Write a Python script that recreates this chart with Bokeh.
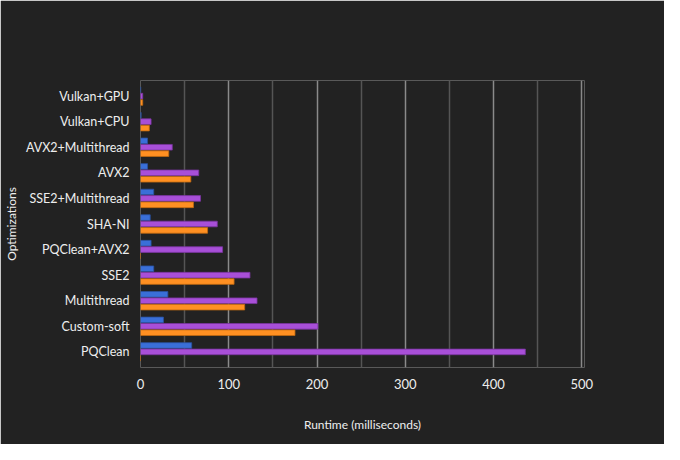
from bokeh.plotting import figure
from bokeh.models import FactorRange, Range1d, FixedTicker, Legend, LegendItem, ColumnDataSource, Label
from bokeh.transform import dodge
from bokeh.embed import file_html
from bokeh.resources import INLINE

categories = ["Vulkan+GPU", "Vulkan+CPU", "AVX2+Multithread", "AVX2", "SSE2+Multithread",
              "SHA-NI", "PQClean+AVX2", "SSE2", "Multithread", "Custom-soft", "PQClean"]
keygen = [0.3, 0.7, 8, 8, 15, 11, 12, 15, 31, 26, 58]
signing = [2.5, 12, 36, 66, 68, 87, 93, 124, 132, 201, 436]
cached = [2.5, 10, 32, 57, 60, 76, 0, 106, 118, 175, 0]

src = ColumnDataSource(dict(cat=categories, keygen=keygen, signing=signing, cached=cached))
FONT = "Lato"
BG = "#222222"

p = figure(width=664, height=444, output_backend="svg", toolbar_location=None,
           y_range=FactorRange(*categories[::-1]), x_range=Range1d(0, 503),
           min_border_left=127, min_border_right=80, min_border_top=80, min_border_bottom=77)
p.background_fill_color = BG
p.border_fill_color = BG
p.outline_line_color = None
p.y_range.range_padding = 0.02

r1 = p.hbar(y=dodge("cat", 0.25, range=p.y_range), right="keygen", height=0.22, source=src,
            fill_color="#3a6fd8", line_color="#2a50a0", line_width=0.8)
r2 = p.hbar(y=dodge("cat", 0.0, range=p.y_range), right="signing", height=0.22, source=src,
            fill_color="#a84fd8", line_color="#7a35a0", line_width=0.8)
r3 = p.hbar(y=dodge("cat", -0.25, range=p.y_range), right="cached", height=0.22, source=src,
            fill_color="#ff9022", line_color="#c06a10", line_width=0.8)

p.add_layout(Label(x=2, y=343, x_units="screen", y_units="screen",
                   text="SLH-DSA Signing/Keygen Optimizations", text_color="#eeeeee",
                   text_font=FONT, text_font_size="18px", text_baseline="middle"))

legend = Legend(items=[LegendItem(label="keygen", renderers=[r1]),
                       LegendItem(label="signing", renderers=[r2]),
                       LegendItem(label="signing (root tree cached)", renderers=[r3])],
                orientation="horizontal", background_fill_alpha=0, border_line_color=None,
                label_text_color="#eeeeee", label_text_font=FONT, label_text_font_size="12.5px",
                glyph_width=28, glyph_height=10, spacing=22, margin=0, padding=2,
                location=(-2, 310))
p.add_layout(legend, "center")

p.xaxis.ticker = FixedTicker(ticks=[0, 100, 200, 300, 400, 500], minor_ticks=[50, 150, 250, 350, 450])
p.xgrid.grid_line_color = "#8a8a8a"
p.xgrid.grid_line_width = 1.5
p.xgrid.minor_grid_line_color = "#555555"
p.xgrid.minor_grid_line_width = 1.5
p.ygrid.grid_line_color = None

for ax in (p.xaxis, p.yaxis):
    ax.axis_line_color = None
    ax.major_tick_line_color = None
    ax.minor_tick_line_color = None
    ax.major_label_text_color = "#eeeeee"
    ax.major_label_text_font = FONT
    ax.major_label_text_font_size = "13px"
    ax.axis_label_text_color = "#eeeeee"
    ax.axis_label_text_font = FONT
    ax.axis_label_text_font_size = "12px"
    ax.axis_label_text_font_style = "normal"

p.xaxis.axis_label = "Runtime (milliseconds)"
p.xaxis.axis_label_standoff = 25
p.yaxis.axis_label = "Optimizations"
p.yaxis.axis_label_standoff = 4
p.yaxis.major_label_text_font_size = "12.5px"

open("out.html", "w").write(file_html(p, INLINE))
